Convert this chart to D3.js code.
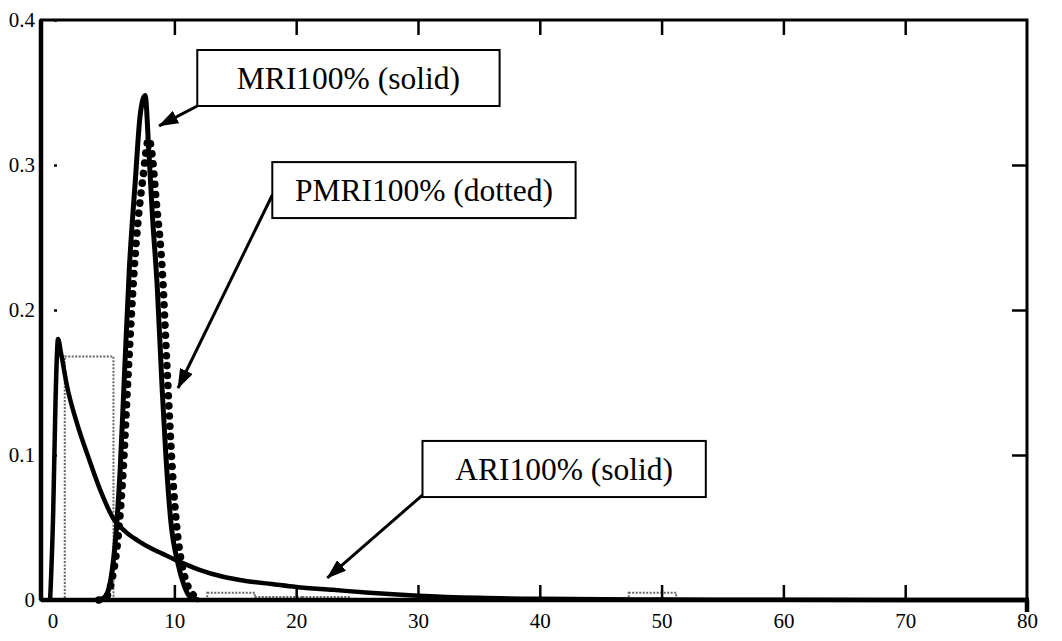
<!DOCTYPE html>
<html>
<head>
<meta charset="utf-8">
<script src="https://cdn.jsdelivr.net/npm/d3@7"></script>
<style>
  body { margin: 0; background: #fff; }
  text { font-family: "Liberation Serif", "DejaVu Serif", serif; fill: #000; }
</style>
</head>
<body>
<div id="canvas"></div>
<script>
// curve values
var ariX = [-0.2, 0.05, 0.25, 0.45, 0.7, 1.2, 2, 3, 4, 5, 6, 7, 8, 9, 10, 12, 14, 16, 18, 20, 23, 26, 30, 35, 40, 50, 60, 80];
var ariY = [0, 0.06, 0.14, 0.18, 0.17, 0.147, 0.122, 0.097, 0.074, 0.056, 0.047, 0.041, 0.036, 0.032, 0.028, 0.021, 0.016, 0.013, 0.011, 0.009, 0.007, 0.005, 0.003, 0.0015, 0.0008, 0.0003, 0.0001, 0];

var mriX = [3.8, 4.3, 4.8, 5.2, 5.55, 5.9, 6.3, 6.8, 7.2, 7.6, 7.9, 8.2, 8.6, 9.0, 9.3, 9.7, 10.3, 10.8, 11.3, 12];
var mriY = [0, 0.002, 0.015, 0.045, 0.09, 0.155, 0.228, 0.29, 0.335, 0.348, 0.31, 0.265, 0.215, 0.145, 0.1, 0.055, 0.025, 0.01, 0.002, 0];

var pmriX = [3.8, 4.4, 4.9, 5.4, 5.8, 6.2, 6.7, 7.0, 7.4, 7.9, 8.2, 8.5, 9.0, 9.4, 9.83, 10.2, 10.5, 11.0, 11.5, 12.2];
var pmriY = [0, 0.002, 0.015, 0.045, 0.09, 0.155, 0.228, 0.26, 0.29, 0.318, 0.305, 0.276, 0.228, 0.16, 0.09, 0.05, 0.03, 0.012, 0.004, 0];

// histogram bins (dotted boxes)
var binStart = [1.0, 12.7, 16.6, 20.5, 47.3];
var binEnd = [5.0, 16.6, 20.5, 24.4, 51.2];
var binHeight = [0.168, 0.005, 0.002, 0.002, 0.005];

var xTicks = [0, 10, 20, 30, 40, 50, 60, 70, 80];
var yTicks = [0, 0.1, 0.2, 0.3, 0.4];

// annotation boxes: text, box corners and arrow (data units)
var noteText = ["MRI100% (solid)", "PMRI100% (dotted)", "ARI100% (solid)"];
var noteBox = [[11.88, 0.3793, 36.7, 0.3407], [18.04, 0.302, 42.94, 0.2634], [30.37, 0.1097, 53.63, 0.071]];
var noteArrow = [[11.88, 0.3407, 8.75, 0.327], [18.04, 0.2793, 10.3, 0.1462], [30.37, 0.0724, 22.56, 0.0152]];

var W = 1062, H = 641;
var svg = d3.select('#canvas').append('svg')
    .attr('width', W).attr('height', H);

var x = d3.scaleLinear().domain([-0.95, 80]).range([41, 1027]);
var y = d3.scaleLinear().domain([0, 0.4]).range([600, 20]);

svg.append('defs').append('marker')
    .attr('id', 'head')
    .attr('markerUnits', 'userSpaceOnUse')
    .attr('markerWidth', 20).attr('markerHeight', 14)
    .attr('refX', 19).attr('refY', 7)
    .attr('orient', 'auto')
    .append('path')
    .attr('d', 'M0,0 L20,7 L0,14 Z')
    .attr('fill', '#000');

// bins
svg.append('g').selectAll('rect')
    .data(binStart)
    .enter().append('rect')
    .attr('x', function(d){ return x(d); })
    .attr('width', function(d, i){ return x(binEnd[i]) - x(d); })
    .attr('y', function(d, i){ return y(binHeight[i]); })
    .attr('height', function(d, i){ return y(0) - y(binHeight[i]); })
    .attr('fill', 'none')
    .attr('stroke', '#666')
    .attr('stroke-width', 2)
    .attr('stroke-dasharray', '2,1.5');

var line = d3.line()
    .x(function(d){ return x(d[0]); })
    .y(function(d){ return y(d[1]); })
    .curve(d3.curveMonotoneX);

function pairs(xs, ys){ return xs.map(function(v, i){ return [v, ys[i]]; }); }

svg.append('path').datum(pairs(ariX, ariY))
    .attr('d', line).attr('fill', 'none')
    .attr('stroke', '#000').attr('stroke-width', 4.5).attr('stroke-linejoin', 'round');

svg.append('path').datum(pairs(mriX, mriY))
    .attr('d', line).attr('fill', 'none')
    .attr('stroke', '#000').attr('stroke-width', 5).attr('stroke-linejoin', 'round');

svg.append('path').datum(pairs(pmriX, pmriY))
    .attr('d', line).attr('fill', 'none')
    .attr('stroke', '#000').attr('stroke-width', 7.5)
    .attr('stroke-linecap', 'round')
    .attr('stroke-dasharray', '0.1,10');

// axes
var fmt = function(d){ return d === 0 ? '0' : d3.format('.1f')(d); };

var gx = svg.append('g').attr('transform', 'translate(0,600)')
    .call(d3.axisBottom(x).tickValues(xTicks).tickSize(-15).tickPadding(13));
gx.selectAll('line').filter(function(d){ return d === 0 || d === 80; }).remove();

var gxt = svg.append('g').attr('transform', 'translate(0,20)')
    .call(d3.axisTop(x).tickValues(xTicks.slice(1, 8)).tickSize(-15).tickFormat(''));

var gy = svg.append('g').attr('transform', 'translate(41,0)')
    .call(d3.axisLeft(y).tickValues(yTicks).tickSize(-16).tickPadding(6).tickFormat(fmt));
gy.selectAll('line')
    .attr('stroke-dasharray', '0,13,3');

var gyr = svg.append('g').attr('transform', 'translate(1027,0)')
    .call(d3.axisRight(y).tickValues(yTicks.slice(1, 4)).tickSize(-15).tickFormat(''));

[gx, gxt, gy, gyr].forEach(function(g){
  g.attr('font-size', 21);
  g.select('.domain').remove();
  g.selectAll('line').attr('stroke', '#000').attr('stroke-width', 2.5);
  g.selectAll('text').attr('fill', '#000')
    .style('font-family', '"Liberation Serif", serif');
});

// frame
svg.append('rect')
    .attr('x', x.range()[0]).attr('y', y.range()[1])
    .attr('width', x.range()[1] - x.range()[0])
    .attr('height', y.range()[0] - y.range()[1])
    .attr('fill', 'none').attr('stroke', '#000').attr('stroke-width', 3);
svg.append('line')
    .attr('x1', x.range()[0]).attr('x2', x.range()[0])
    .attr('y1', y.range()[1]).attr('y2', y.range()[0])
    .attr('stroke', '#000').attr('stroke-width', 4.5);
svg.append('line')
    .attr('x1', x.range()[0]).attr('x2', x.range()[1] + 2)
    .attr('y1', y.range()[0]).attr('y2', y.range()[0])
    .attr('stroke', '#000').attr('stroke-width', 4.5);
svg.append('line')
    .attr('x1', x.range()[1]).attr('x2', x.range()[1])
    .attr('y1', y.range()[0]).attr('y2', y.range()[0] + 12)
    .attr('stroke', '#000').attr('stroke-width', 4.5);

// annotations
var notes = svg.append('g');
noteText.forEach(function(t, i){
  var b = noteBox[i], a = noteArrow[i];
  notes.append('line')
      .attr('x1', x(a[0])).attr('y1', y(a[1]))
      .attr('x2', x(a[2])).attr('y2', y(a[3]))
      .attr('stroke', '#000').attr('stroke-width', 3)
      .attr('marker-end', 'url(#head)');
  notes.append('rect')
      .attr('x', x(b[0])).attr('y', y(b[1]))
      .attr('width', x(b[2]) - x(b[0]))
      .attr('height', y(b[3]) - y(b[1]))
      .attr('fill', '#fff').attr('stroke', '#000').attr('stroke-width', 2);
  notes.append('text')
      .attr('x', (x(b[0]) + x(b[2])) / 2)
      .attr('y', (y(b[1]) + y(b[3])) / 2)
      .attr('dy', '0.35em')
      .attr('text-anchor', 'middle')
      .attr('font-size', 31.5)
      .text(t);
});
</script>
</body>
</html>
